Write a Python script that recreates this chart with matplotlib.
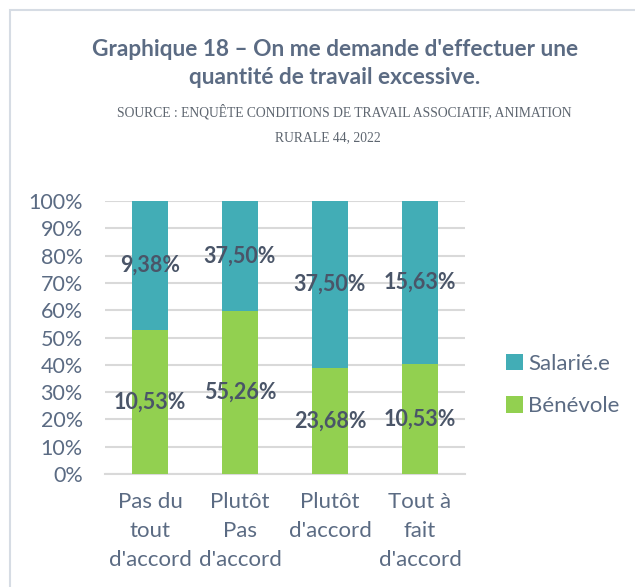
import matplotlib.pyplot as plt
from matplotlib.patches import Rectangle
import numpy as np

categories = ["Pas du\ntout\nd'accord", "Plutôt\nPas\nd'accord", "Plutôt\nd'accord", "Tout à\nfait\nd'accord"]
benevole = [10.53, 55.26, 23.68, 10.53]
salarie = [9.38, 37.50, 37.50, 15.63]
yticks = [0, 10, 20, 30, 40, 50, 60, 70, 80, 90, 100]

c_sal = '#42ADB6'
c_ben = '#92D050'
c_txt = '#5B6B83'
c_lbl = '#4A5568'

plt.rcParams['font.family'] = ['Lato', 'DejaVu Sans']

fig = plt.figure(figsize=(6.35, 5.87), dpi=100)
fig.patches.append(Rectangle((10 / 635, -0.1), 1.2, 1 - 10 / 587 + 0.1, transform=fig.transFigure,
                             fill=False, edgecolor='#D6DCE4', linewidth=1.5))

ax = fig.add_axes([105 / 635, 1 - 474 / 587, 360 / 635, 273 / 587])

ben = np.array(benevole)
sal = np.array(salarie)
tot = ben + sal
ben_p = ben / tot * 100
sal_p = sal / tot * 100
x = np.arange(len(categories))

b1 = ax.bar(x, ben_p, width=0.4, color=c_ben, label='Bénévole', zorder=3)
b2 = ax.bar(x, sal_p, width=0.4, bottom=ben_p, color=c_sal, label='Salarié.e', zorder=3)

for i in range(len(x)):
    ax.text(x[i], ben_p[i] / 2, f"{benevole[i]:.2f}%".replace('.', ','), ha='center', va='center',
            fontsize=15.5, fontweight='bold', color=c_lbl, zorder=4)
    ax.text(x[i], ben_p[i] + sal_p[i] / 2, f"{salarie[i]:.2f}%".replace('.', ','), ha='center', va='center',
            fontsize=15.5, fontweight='bold', color=c_lbl, zorder=4)

ax.set_xlim(-0.5, 3.5)
ax.set_ylim(0, 100)
ax.set_yticks(yticks)
ax.set_yticklabels([f"{v}%" for v in yticks])
ax.set_xticks(x)
ax.set_xticklabels(categories, linespacing=1.55)
ax.tick_params(axis='y', length=0, labelsize=15.5, labelcolor=c_txt, pad=16)
ax.tick_params(axis='x', length=0, labelsize=16, labelcolor=c_txt, pad=13)
ax.grid(axis='y', color='#D9D9D9', linewidth=1.5, zorder=0)
for s in ['top', 'right', 'left']:
    ax.spines[s].set_visible(False)
ax.spines['bottom'].set_color('#D9D9D9')
ax.spines['bottom'].set_linewidth(1.5)

handles = [b2, b1]
fig.legend(handles, ['Salarié.e', 'Bénévole'], loc='center left', bbox_to_anchor=(486 / 635, 1 - 385 / 587),
           frameon=False, fontsize=16, labelcolor=c_txt, handlelength=0.75, handleheight=0.75,
           handletextpad=0.25, labelspacing=1.0)

fig.text(335 / 635, 1 - 50 / 587, "Graphique 18 – On me demande d'effectuer une", ha='center', va='center',
         fontsize=16.3, fontweight='bold', color=c_txt)
fig.text(335 / 635, 1 - 77 / 587, "quantité de travail excessive.", ha='center', va='center',
         fontsize=16.3, fontweight='bold', color=c_txt)
fig.text(344 / 635, 1 - 112 / 587, "SOURCE : ENQUÊTE CONDITIONS DE TRAVAIL ASSOCIATIF, ANIMATION", ha='center',
         va='center', fontsize=9.8, color='#5E6670', family=['Liberation Serif', 'DejaVu Serif'])
fig.text(328 / 635, 1 - 138 / 587, "RURALE 44, 2022", ha='center', va='center', fontsize=9.8, color='#5E6670',
         family=['Liberation Serif', 'DejaVu Serif'])

fig.savefig('out.png', dpi=100, facecolor='white')
